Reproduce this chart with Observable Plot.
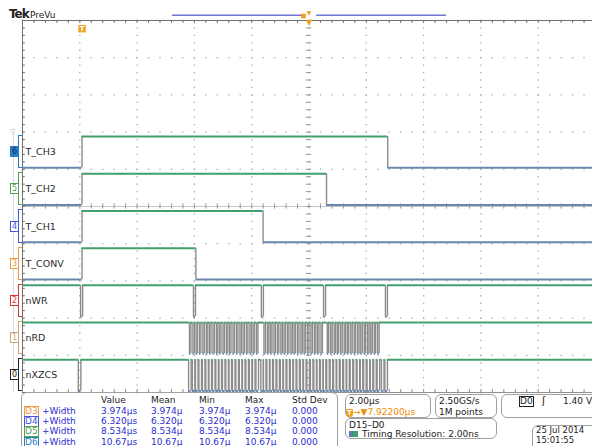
<!DOCTYPE html>
<html>
<head>
<meta charset="utf-8">
<script src="https://cdn.jsdelivr.net/npm/d3@7"></script>
<script src="https://cdn.jsdelivr.net/npm/@observablehq/plot@0.6"></script>
<style>
  html, body { margin: 0; padding: 0; background: #fff; overflow: hidden; }
  #scope { position: relative; width: 592px; height: 446px; overflow: hidden;
           font-family: "DejaVu Sans", sans-serif; color: #222; background: #fff; }
  #scope svg { position: absolute; left: 0; top: 0; }
  .abs { position: absolute; white-space: nowrap; font-size: 9px; line-height: 10px; }
  .panel { position: absolute; border: 1px solid #a0a0a0; border-radius: 6px; box-sizing: border-box; }
  .dbox { display: inline-block; border: 1px solid; padding: 0; line-height: 9px; }
  .tbadge { display: inline-block; background: #f0a020; color: #fff; font-weight: bold;
            font-size: 7px; line-height: 8px; width: 7px; text-align: center; border-radius: 1px 1px 3px 3px; }
</style>
</head>
<body>
<div id="scope"></div>
<script>
// ---- acquisition settings ----
const timePerDiv = 2.0;          // µs / division
const triggerOffset = 7.922;     // trigger position, µs left of screen centre
const sampleRate = "2.50GS/s";
const recordLength = "1M points";
const thresholdLevel = 1.40;     // V, trigger on D0 rising
const timingResolution = "2.00ns";
const stampDate = "25 Jul  2014";
const stampTime = "15:01:55";

// ---- digital channels, top to bottom ----
const channelNames = ["T_CH3", "T_CH2", "T_CH1", "T_CONV", "nWR", "nRD", "nXZCS"];
const channelIds   = ["6", "5", "4", "3", "2", "1", "0"];

// +Width of the conversion strobes (D6, D5, D4, D3), high from the trigger
const strobeWidths = [10.67, 8.534, 6.320, 3.974];

// write strobe: low pulses, start times in µs after trigger
const wrPulses = [-0.05, 3.89, 6.26, 8.43, 10.59];
const wrWidth = 0.07;

// read strobe burst: low pulses, start times in µs after trigger
const rdPulses = [
  3.75, 3.87, 3.98, 4.10, 4.22, 4.34, 4.45, 4.57, 4.69, 4.80, 4.92, 5.04, 5.15, 5.27, 5.39, 5.51, 5.62, 5.74, 5.86, 5.97, 6.09,
  6.35, 6.47, 6.58, 6.70, 6.82, 6.94, 7.05, 7.17, 7.29, 7.40, 7.52, 7.64, 7.75, 7.87, 7.99, 8.11, 8.22, 8.34,
  8.56, 8.68, 8.80, 8.91, 9.03, 9.15, 9.26, 9.38, 9.50, 9.62, 9.73, 9.85, 9.97, 10.08, 10.20, 10.32
];
const rdWidth = 0.05;

// chip select: low for every access
const csPulses = [
  -0.13,
  3.72, 3.85, 3.96, 4.08, 4.20, 4.32, 4.43, 4.55, 4.67, 4.78, 4.90, 5.02, 5.13, 5.25, 5.37, 5.49, 5.60, 5.72, 5.84, 5.95, 6.07,
  6.24,
  6.33, 6.45, 6.56, 6.68, 6.80, 6.92, 7.03, 7.15, 7.27, 7.38, 7.50, 7.62, 7.73, 7.85, 7.97, 8.09, 8.20, 8.32,
  8.42,
  8.54, 8.66, 8.78, 8.89, 9.01, 9.13, 9.24, 9.36, 9.48, 9.60, 9.71, 9.83, 9.95, 10.06, 10.18, 10.30,
  10.45, 10.57
];
const csWidth = 0.09;

// ---- measurement readout ----
const measSources = ["D3", "D4", "D5", "D6"];
const measWidths  = [3.974, 6.320, 8.534, 10.67];
const measStdDev  = [0, 0, 0, 0];
const measHeaders = ["Value", "Mean", "Min", "Max", "Std Dev"];

// ---- styling ----
const HIGH = "#42a06e", LOW = "#6a87ae", EDGE = "#8c8c8c";
const chanColor = {"6": "#2a7cc4", "5": "#55a055", "4": "#4a52e0", "3": "#f09a45", "2": "#e03434", "1": "#c8a478", "0": "#222"};
const FONT = "DejaVu Sans";

// ---- build the logic-level segments ----
const tMin = triggerOffset - 5 * timePerDiv;
const tMax = triggerOffset + 5 * timePerDiv;
const ROW0 = 3;                       // first channel sits on division row 3
const HI_OFF = 0.12, LO_OFF = 0.96;   // level offsets inside a row (divisions)

function segmentsFromPulses(ch, pulses, width, restHigh) {
  const segs = [];
  let t = tMin;
  for (const p of pulses) {
    segs.push({ch, t1: t, t2: p, high: restHigh});
    segs.push({ch, t1: p, t2: p + width, high: !restHigh});
    t = p + width;
  }
  segs.push({ch, t1: t, t2: tMax, high: restHigh});
  return segs;
}

let segments = [];
strobeWidths.forEach((w, i) => { segments = segments.concat(segmentsFromPulses(i, [0], w, false)); });
segments = segments.concat(segmentsFromPulses(4, wrPulses, wrWidth, true));
segments = segments.concat(segmentsFromPulses(5, rdPulses, rdWidth, true));
segments = segments.concat(segmentsFromPulses(6, csPulses, csWidth, true));

const edges = [];
for (let k = 0; k < segments.length - 1; k++) {
  if (segments[k].ch === segments[k + 1].ch) edges.push({ch: segments[k].ch, t: segments[k].t2});
}
const hiY = d => ROW0 + d.ch + HI_OFF;
const loY = d => ROW0 + d.ch + LO_OFF;

// ---- graticule ----
const minorX = d3.range(0, 51).map(k => tMin + k * timePerDiv / 5);
const minorY = d3.range(0, 51).map(k => k / 5);
const majorX = d3.range(0, 11).map(k => tMin + k * timePerDiv);
const majorY = d3.range(0, 11);
const gridDots = [];
for (const y of majorY) for (const x of minorX) gridDots.push({x, y});
for (const x of majorX) for (const y of minorY) gridDots.push({x, y});

const plot = Plot.plot({
  width: 592, height: 446,
  marginTop: 20, marginBottom: 54, marginLeft: 22, marginRight: 0,
  x: {domain: [tMin, tMax], range: [22, 595], axis: null},
  y: {domain: [0, 10], range: [20, 392], axis: null},
  style: {background: "transparent", fontFamily: FONT},
  marks: [
    Plot.dot(gridDots, {x: "x", y: "y", r: 0.75, symbol: "square", fill: "#aaa"}),
    // centre crosshair
    Plot.ruleY([5], {stroke: "#c4c4c4", strokeWidth: 1}),
    Plot.ruleX(minorX, {x: d => d, y1: 5 - 0.07, y2: 5 + 0.07, stroke: "#999"}),
    Plot.ruleY(minorY, {y: d => d, x1: triggerOffset - 0.09, x2: triggerOffset + 0.09, stroke: "#999"}),
    // border and border ticks
    Plot.ruleY([0], {stroke: "#707070"}),
    Plot.ruleY([10], {stroke: "#909090"}),
    Plot.ruleX([tMin], {y1: 0, y2: 10, stroke: "#707070"}),
    Plot.ruleX(minorX, {x: d => d, y1: 0, y2: 0.08, stroke: "#707070"}),
    Plot.ruleX(minorX, {x: d => d, y1: 10 - 0.08, y2: 10, stroke: "#909090"}),
    Plot.ruleY(minorY, {y: d => d, x1: tMin, x2: tMin + 0.1, stroke: "#707070"}),
    // record view bar with trigger / expansion markers
    Plot.ruleY([-0.14], {x1: 3.157, x2: 7.70, stroke: "#7474d4", strokeWidth: 1.5}),
    Plot.ruleY([-0.14], {x1: 8.19, x2: 12.72, stroke: "#7474d4", strokeWidth: 1.5}),
    Plot.dot([7.73], {x: d => d, y: -0.12, symbol: "square", r: 2.6, fill: "#f0a020"}),
    Plot.text([triggerOffset], {x: d => d, y: -0.2, text: () => "▼", fontSize: 6, fill: "#f0a020"}),
    Plot.text([triggerOffset], {x: d => d, y: 0.05, text: () => "▼", fontSize: 8, fill: "#f0a020"}),
    // trigger point marker
    Plot.dot([0], {x: d => d, y: 0.22, symbol: "square", r: 4.2, fill: "#f0a020"}),
    Plot.text([0], {x: d => d, y: 0.22, text: () => "T", fontSize: 7, fontWeight: "bold", fill: "#fff"}),
    // logic traces
    Plot.ruleX(edges, {x: "t", y1: hiY, y2: loY, stroke: EDGE, strokeWidth: 1.4}),
    Plot.ruleY(segments.filter(d => !d.high), {x1: "t1", x2: "t2", y: loY, stroke: LOW, strokeWidth: 2}),
    Plot.ruleY(segments.filter(d => d.high), {x1: "t1", x2: "t2", y: hiY, stroke: HIGH, strokeWidth: 2}),
    // channel names
    Plot.text(channelNames, {x: tMin, y: (d, i) => ROW0 + i + 0.54, text: d => d, dx: 3,
      textAnchor: "start", fontSize: 9.5, fill: "#2a2a2a", fontFamily: FONT})
  ]
});
const scope = document.getElementById("scope");
scope.appendChild(plot);
const ys = plot.scale("y");

function put(html, left, top, css = "") {
  const el = document.createElement("div");
  el.className = "abs";
  el.style.cssText = `left:${left}px;top:${top}px;${css}`;
  el.innerHTML = html;
  scope.appendChild(el);
  return el;
}
function panel(left, top, w, h) {
  const el = document.createElement("div");
  el.className = "panel";
  el.style.cssText = `left:${left}px;top:${top}px;width:${w}px;height:${h}px;`;
  scope.appendChild(el);
}

// header
put("Tek", 9, 8, "font-size:12px;font-weight:bold;letter-spacing:-1px;line-height:13px;");
put("PreVu", 30, 10, "font-size:9px;");

// left-hand channel markers
put("", 13, 131, "width:1px;height:261px;background:#d6dae6;");
put("▽", 10, 127, "font-size:7px;color:#b8bccc;");
channelIds.forEach((id, i) => {
  const c = chanColor[id];
  const top = ys.apply(ROW0 + i + HI_OFF) - 1;
  const bot = ys.apply(ROW0 + i + LO_OFF) + 1;
  put("", 18, top, `width:3px;height:${bot - top - 2}px;border-left:1.5px solid ${c};border-top:1px solid ${c};border-bottom:1px solid ${c};`);
  const mid = ys.apply(ROW0 + i + 0.5) + 1;
  const filled = id === "6";
  put(id, 10, mid - 5, `width:7px;height:9px;line-height:9px;text-align:center;font-size:8px;border:1px solid ${c};` +
      (filled ? `background:${c};color:#0c2f66;` : `background:#fff;color:${c};`));
});

// measurement readout
panel(21, 392, 317, 70);
const colX = [101, 151, 199, 245, 292];
measHeaders.forEach((h, j) => put(h, colX[j], 395));
measSources.forEach((src, i) => {
  const yTop = 406 + i * 10.2;
  const c = chanColor[src.slice(1)];
  put(`<span class="dbox" style="border-color:${c};color:${c}">${src}</span>`, 24, yTop);
  put("+Width", 42, yTop, "color:#2c2cd0;");
  const v = measWidths[i].toPrecision(4);
  const cells = [v + "µs", v + "µ", v + "µ", v + "µ", measStdDev[i].toFixed(3)];
  cells.forEach((s, j) => put(s, colX[j], yTop, "color:#2c2cd0;"));
});

// horizontal / acquisition / trigger panels
panel(345, 394, 86, 24);
put(timePerDiv.toFixed(2) + "µs", 349, 396);
put(`<span class="tbadge">T</span>→▼${triggerOffset.toFixed(5)}µs`, 346, 407, "color:#f08c00;");
panel(435, 394, 62, 24);
put(sampleRate, 439, 396);
put(recordLength, 439, 407);
panel(501, 394, 110, 24);
put(`<span class="dbox" style="border-color:#222;color:#222">D0</span>`, 519, 396);
put("ʃ", 542, 396, "font-size:10px;");
put(thresholdLevel.toFixed(2) + " V", 563, 396);
panel(345, 418, 152, 21);
put("D15–D0", 349, 420);
put(`<span style="display:inline-block;width:9px;height:6px;background:linear-gradient(90deg,#5a7ab0 50%,#42a06e 50%);margin-right:4px;vertical-align:0"></span>Timing Resolution: ${timingResolution}`, 349, 429);
panel(532, 425, 80, 30);
put(stampDate, 536, 426, "font-size:8.5px;line-height:9px;");
put(stampTime, 536, 436, "font-size:8.5px;line-height:9px;");
</script>
</body>
</html>
